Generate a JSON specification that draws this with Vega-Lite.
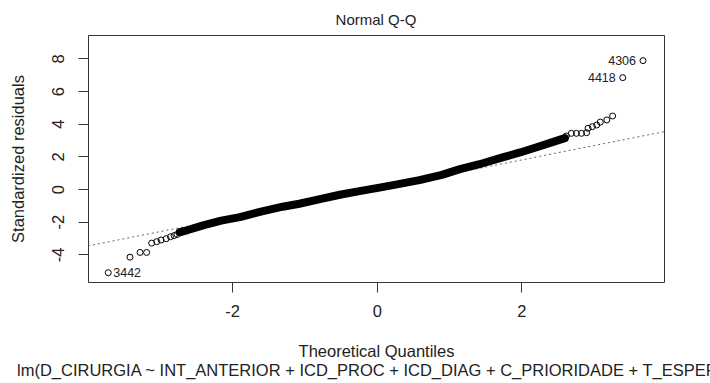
{
  "$schema": "https://vega.github.io/schema/vega-lite/v6.json",
  "autosize": {"type": "none"},
  "width": 576,
  "height": 247,
  "padding": {"left": 88, "top": 35, "right": 46, "bottom": 101},
  "background": "white",
  "config": {
    "font": "Liberation Sans",
    "view": {"stroke": "#333", "strokeWidth": 1},
    "axis": {
      "domain": false,
      "grid": false,
      "tickColor": "#333",
      "tickSize": 10,
      "labelFont": "Liberation Sans",
      "labelFontSize": 16.5,
      "labelColor": "#222",
      "titleFont": "Liberation Sans",
      "titleFontSize": 16.5,
      "titleFontWeight": "normal",
      "titleColor": "#222"
    }
  },
  "title": {
    "text": "Normal Q-Q",
    "fontSize": 15,
    "fontWeight": "normal",
    "font": "Liberation Sans",
    "color": "#222",
    "anchor": "middle",
    "offset": 7
  },
  "datasets": {
    "pts": [
      {"q": -3.71, "r": -5.12, "band": false, "lab": "3442"},
      {"q": -3.41, "r": -4.17, "band": false},
      {"q": -3.27, "r": -3.88, "band": false},
      {"q": -3.18, "r": -3.88, "band": false},
      {"q": -3.11, "r": -3.31, "band": false},
      {"q": -3.04, "r": -3.22, "band": false},
      {"q": -2.98, "r": -3.12, "band": false},
      {"q": -2.91, "r": -3.04, "band": false},
      {"q": -2.85, "r": -2.92, "band": false},
      {"q": -2.80, "r": -2.85, "band": false},
      {"q": -2.76, "r": -2.78, "band": false},
      {"q": -2.71, "r": -2.67, "band": false},
      {"q": -2.72, "r": -2.64, "band": true},
      {"q": -2.61, "r": -2.51, "band": true},
      {"q": -2.40, "r": -2.22, "band": true},
      {"q": -2.15, "r": -1.93, "band": true},
      {"q": -1.89, "r": -1.72, "band": true},
      {"q": -1.60, "r": -1.38, "band": true},
      {"q": -1.30, "r": -1.08, "band": true},
      {"q": -1.07, "r": -0.90, "band": true},
      {"q": -0.80, "r": -0.63, "band": true},
      {"q": -0.51, "r": -0.35, "band": true},
      {"q": -0.20, "r": -0.10, "band": true},
      {"q": 0.00, "r": 0.06, "band": true},
      {"q": 0.30, "r": 0.30, "band": true},
      {"q": 0.59, "r": 0.55, "band": true},
      {"q": 0.90, "r": 0.87, "band": true},
      {"q": 1.15, "r": 1.22, "band": true},
      {"q": 1.42, "r": 1.52, "band": true},
      {"q": 1.75, "r": 1.95, "band": true},
      {"q": 1.98, "r": 2.24, "band": true},
      {"q": 2.21, "r": 2.56, "band": true},
      {"q": 2.45, "r": 2.90, "band": true},
      {"q": 2.60, "r": 3.12, "band": true},
      {"q": 2.62, "r": 3.25, "band": false},
      {"q": 2.69, "r": 3.41, "band": false},
      {"q": 2.76, "r": 3.41, "band": false},
      {"q": 2.83, "r": 3.41, "band": false},
      {"q": 2.90, "r": 3.45, "band": false},
      {"q": 2.92, "r": 3.72, "band": false},
      {"q": 2.98, "r": 3.82, "band": false},
      {"q": 3.04, "r": 3.92, "band": false},
      {"q": 3.09, "r": 4.10, "band": false},
      {"q": 3.18, "r": 4.23, "band": false},
      {"q": 3.26, "r": 4.47, "band": false},
      {"q": 3.40, "r": 6.82, "band": false, "lab": "4418"},
      {"q": 3.68, "r": 7.86, "band": false, "lab": "4306"}
    ],
    "ref": [
      {"q1": -3.99, "r1": -3.48, "q2": 3.97, "r2": 3.51}
    ]
  },
  "layer": [
    {
      "data": {"name": "ref"},
      "mark": {"type": "rule", "color": "#666", "strokeWidth": 1, "strokeDash": [2, 3]},
      "encoding": {
        "x": {"field": "q1", "type": "quantitative"},
        "y": {"field": "r1", "type": "quantitative"},
        "x2": {"field": "q2"},
        "y2": {"field": "r2"}
      }
    },
    {
      "data": {"name": "pts"},
      "transform": [{"filter": "datum.band"}],
      "mark": {"type": "line", "color": "black", "strokeWidth": 8, "strokeCap": "round", "strokeJoin": "round"},
      "encoding": {
        "x": {"field": "q", "type": "quantitative"},
        "y": {"field": "r", "type": "quantitative"}
      }
    },
    {
      "data": {"name": "pts"},
      "mark": {"type": "point", "shape": "circle", "filled": false, "color": "black", "size": 36, "strokeWidth": 1, "opacity": 1},
      "encoding": {
        "x": {
          "field": "q", "type": "quantitative",
          "scale": {"domain": [-3.99, 3.97], "nice": false, "zero": false},
          "axis": {
            "values": [-2, 0, 2],
            "labelExpr": "'' + datum.value",
            "labelPadding": 11,
            "titlePadding": 24,
            "title": ["Theoretical Quantiles", "lm(D_CIRURGIA ~ INT_ANTERIOR + ICD_PROC + ICD_DIAG + C_PRIORIDADE + T_ESPER ..."],
            "titleLineHeight": 19
          }
        },
        "y": {
          "field": "r", "type": "quantitative",
          "scale": {"domain": [-5.69, 9.43], "nice": false, "zero": false},
          "axis": {
            "values": [-4, -2, 0, 2, 4, 6, 8],
            "labelExpr": "'' + datum.value",
            "labelAngle": -90,
            "labelAlign": "center",
            "labelBaseline": "bottom",
            "labelPadding": 12,
            "title": "Standardized residuals",
            "titlePadding": 24
          }
        }
      }
    },
    {
      "data": {"name": "pts"},
      "transform": [{"filter": "datum.lab != null && datum.q > 0"}],
      "mark": {"type": "text", "align": "right", "baseline": "middle", "dx": -7, "fontSize": 12.5, "color": "#222", "font": "Liberation Sans"},
      "encoding": {
        "x": {"field": "q", "type": "quantitative"},
        "y": {"field": "r", "type": "quantitative"},
        "text": {"field": "lab"}
      }
    },
    {
      "data": {"name": "pts"},
      "transform": [{"filter": "datum.lab != null && datum.q < 0"}],
      "mark": {"type": "text", "align": "left", "baseline": "middle", "dx": 5, "fontSize": 12.5, "color": "#222", "font": "Liberation Sans"},
      "encoding": {
        "x": {"field": "q", "type": "quantitative"},
        "y": {"field": "r", "type": "quantitative"},
        "text": {"field": "lab"}
      }
    }
  ]
}
